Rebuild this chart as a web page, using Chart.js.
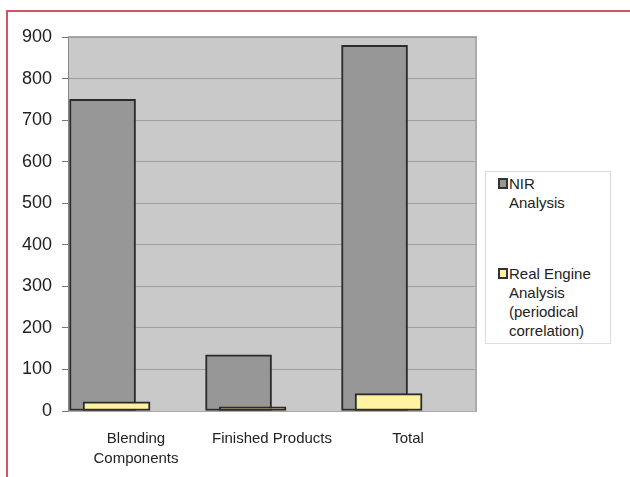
<!DOCTYPE html>
<html>
<head>
<meta charset="utf-8">
<script src="https://cdn.jsdelivr.net/npm/chart.js@4/dist/chart.umd.min.js"></script>
<style>
  html, body { margin: 0; padding: 0; background: #fff; overflow: hidden; }
  #frame { position: absolute; left: 6px; top: 10px; width: 700px; height: 600px; border: 2px solid #d25466; }
  #wrap { position: absolute; left: 0; top: 0; width: 630px; height: 477px; }
  #legend {
    position: absolute; left: 485px; top: 171px; width: 126px; height: 173px;
    border: 1px solid #dcdcdc; background: #fff; box-sizing: border-box;
    font-family: "Liberation Sans", Arial, sans-serif; font-size: 15px; line-height: 19px; color: #222;
    padding: 2px 0 0 12px;
  }
  .item { display: flex; align-items: flex-start; }
  .item + .item { margin-top: 52px; }
  .mark { width: 10px; height: 11px; border: 2px solid #333; box-sizing: border-box; margin-top: 4px; margin-right: 1px; flex: none; }
</style>
</head>
<body>
<div id="frame"></div>
<div id="wrap"><canvas id="barChart" width="630" height="477"></canvas></div>
<div id="legend"></div>
<script>
const categories = [['Blending', 'Components'], 'Finished Products', 'Total'];
const nirValues = [750, 135, 880];
const engineValues = [22, 10, 42];
const seriesNames = [['NIR', 'Analysis'], ['Real Engine', 'Analysis', '(periodical', 'correlation)']];
const yTicks = [0, 100, 200, 300, 400, 500, 600, 700, 800, 900];

// Excel-style overlapping bars: offsets within each category (in category units)
const nirShift = 0.254;
const engineShift = 0.357;

const plotBg = {
  id: 'plotBg',
  beforeDraw(chart) {
    const { ctx, chartArea: a } = chart;
    ctx.save();
    ctx.fillStyle = '#c9c9c9';
    ctx.fillRect(a.left, a.top, a.right - a.left, a.bottom - a.top);
    ctx.strokeStyle = '#ababab';
    ctx.lineWidth = 2;
    ctx.beginPath();
    ctx.moveTo(a.left, a.top);
    ctx.lineTo(a.right, a.top);
    ctx.lineTo(a.right, a.bottom);
    ctx.stroke();
    ctx.restore();
  }
};

const ctx = document.getElementById('barChart').getContext('2d');
const barChart = new Chart(ctx, {
  type: 'bar',
  data: {
    datasets: [{
      label: 'NIR Analysis',
      data: nirValues.map((v, i) => ({ x: i + nirShift, y: v })),
      backgroundColor: '#979797',
      borderColor: '#2b2b2b',
      borderWidth: 2,
      borderSkipped: false,
      barThickness: 66,
      grouped: false,
      order: 2
    }, {
      label: 'Real Engine Analysis (periodical correlation)',
      data: engineValues.map((v, i) => ({ x: i + engineShift, y: v })),
      backgroundColor: ['#fff2a0', '#8c7c52', '#fff2a0'],
      borderColor: '#2b2b2b',
      borderWidth: 2,
      borderSkipped: false,
      barThickness: 67,
      grouped: false,
      order: 1
    }]
  },
  options: {
    responsive: false,
    animation: false,
    layout: { padding: { top: 37, right: 154, left: 0, bottom: 0 } },
    plugins: { legend: { display: false }, tooltip: { enabled: false } },
    scales: {
      x: {
        type: 'linear',
        offset: false,
        min: 0,
        max: categories.length,
        afterBuildTicks: axis => { axis.ticks = categories.map((c, i) => ({ value: i + 0.5 })); },
        afterFit: axis => { axis.height = 66; },
        grid: { display: false },
        border: { color: '#b0a6a6', width: 1 },
        ticks: {
          padding: 10,
          color: '#222',
          maxRotation: 0,
          autoSkip: false,
          font: { family: '"Liberation Sans", Arial, sans-serif', size: 15, lineHeight: 1.33 },
          callback: v => categories[Math.floor(v)]
        }
      },
      y: {
        min: 0,
        max: 900,
        afterBuildTicks: axis => { axis.ticks = yTicks.map(v => ({ value: v })); },
        afterFit: axis => { axis.width = 68; },
        grid: { color: '#9e9e9e', lineWidth: 1, tickLength: 6, tickColor: '#777', drawOnChartArea: true },
        border: { color: '#888', width: 1 },
        ticks: {
          padding: 10,
          color: '#222',
          font: { family: '"Liberation Sans", Arial, sans-serif', size: 18 }
        }
      }
    }
  },
  plugins: [plotBg]
});

// html legend with wrapped labels
const legend = document.getElementById('legend');
barChart.data.datasets.forEach((ds, i) => {
  const item = document.createElement('div');
  item.className = 'item';
  const mark = document.createElement('span');
  mark.className = 'mark';
  mark.style.background = Array.isArray(ds.backgroundColor) ? ds.backgroundColor[0] : ds.backgroundColor;
  const text = document.createElement('span');
  text.innerHTML = seriesNames[i].join('<br>');
  item.appendChild(mark);
  item.appendChild(text);
  legend.appendChild(item);
});
</script>
</body>
</html>
